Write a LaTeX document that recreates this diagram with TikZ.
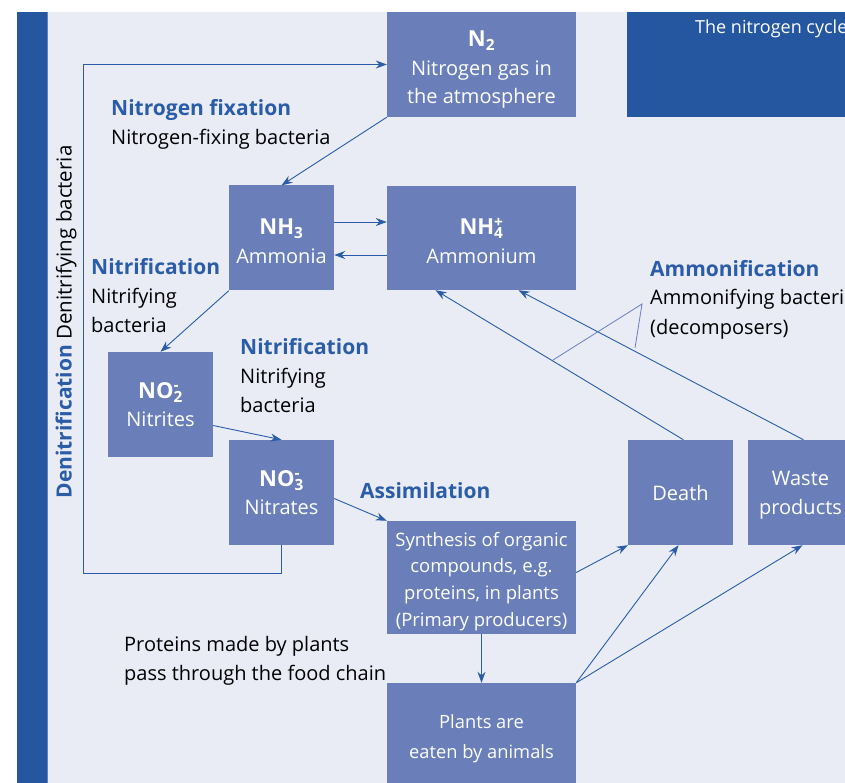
\documentclass[tikz,border=0pt]{standalone}
\usepackage{xcolor}
\usepackage{fontspec}
\setmainfont{Open Sans}
\usetikzlibrary{arrows.meta,positioning}
\definecolor{bandblue}{HTML}{2556A0}
\definecolor{boxblue}{HTML}{6A7EBA}
\definecolor{paleback}{HTML}{E9EBF5}
\definecolor{labelblue}{HTML}{2A5CA8}
\newcommand{\stepname}[1]{\textcolor{labelblue}{\fontsize{21}{29}\selectfont\textbf{#1}}}
\newcommand{\chem}[1]{{\fontsize{22}{28}\selectfont\textbf{#1}}}
\newcommand{\lift}[1]{\rule{0pt}{#1}}

\begin{document}
\begin{tikzpicture}[x=1pt,y=-1pt,
                    box/.style={rectangle,fill=boxblue,text=white,inner sep=0pt,align=center,
                                font=\fontsize{20}{28.5}\selectfont},
                    small box/.style={box,minimum width=105,minimum height=105},
                    wide box/.style={box,minimum width=189,minimum height=105},
                    link/.style={draw=labelblue,line width=0.9pt,-{Stealth[length=11pt,width=8pt]}},
                    note/.style={anchor=base west,inner sep=0pt,align=left,
                                 font=\fontsize{20}{29}\selectfont}]

  \useasboundingbox (0,0) rectangle (845,783);
  \fill[paleback] (17,12) rectangle (845,783);
  \fill[bandblue] (17,12) rectangle (47,783);
  \draw[boxblue,line width=0.6pt] (47,12) -- (47,783);

  % title panel
  \fill[bandblue] (627,12) rectangle (870,117);
  \node[anchor=west,inner sep=0pt,text=white,font=\fontsize{18}{22}\selectfont] (title) at (695,29) {The nitrogen cycle};

  % boxes
  \node[wide box] (n2) at (481.5,64.5) {\lift{26pt}\chem{N\textsubscript{2}}\\Nitrogen gas in\\the atmosphere};
  \node[small box] (nh3) at (281.5,238) {\lift{22pt}\chem{NH\textsubscript{3}}\\Ammonia};
  \node[wide box,minimum height=104] (nh4) at (481.5,238) {\lift{22pt}\chem{NH\rlap{\textsuperscript{+}}\textsubscript{4}}\\Ammonium};
  \node[small box] (no2) at (160.5,404.5) {\chem{NO\rlap{\textsuperscript{-}}\textsubscript{2}}\\Nitrites};
  \node[small box] (no3) at (281.5,492.5) {\chem{NO\rlap{\textsuperscript{-}}\textsubscript{3}}\\Nitrates};
  \node[wide box,minimum height=113,font=\fontsize{18.5}{26.7}\selectfont] (synth) at (481.5,577.5)
       {\lift{22pt}Synthesis of organic\\compounds, e.g.\\proteins, in plants\\(Primary producers)};
  \node[small box] (death) at (680.5,492.5) {Death};
  \node[small box,font=\fontsize{20}{29}\selectfont] (waste) at (800.5,492.5) {\lift{20pt}Waste\\products};
  \node[wide box,minimum height=112,font=\fontsize{18.3}{30}\selectfont] (plants) at (481.5,739) {Plants are\\eaten by animals};

  % labels
  \node[note] (fixation) at (111,145) {\stepname{Nitrogen fixation}\\Nitrogen-fixing bacteria};
  \node[note] (nitrif1) at (91,332) {\stepname{Nitrification}\\Nitrifying\\bacteria};
  \node[note] (nitrif2) at (240,412) {\stepname{Nitrification}\\Nitrifying\\bacteria};
  \node[note] (assim) at (360,498) {\stepname{Assimilation}};
  \node[note] (ammon) at (650,334) {\stepname{Ammonification}\\Ammonifying bacteria\\(decomposers)};
  \node[note] (food) at (124,680) {Proteins made by plants\\pass through the food chain};
  \node[rotate=90,inner sep=0pt,font=\fontsize{20.5}{22}\selectfont] (denitr) at (66,322)
       {\stepname{Denitrification} Denitrifying bacteria};

  % connectors
  \coordinate (bend) at (83,573);
  \draw[link] (no3.south) |- (bend) |- (n2.west);
  \draw[link] (n2.south west) -- (nh3.north);
  \draw[link] ([yshift=16]nh3.east) -- ([yshift=16]nh4.west);
  \draw[link] ([yshift=-17]nh4.west) -- ([yshift=-17]nh3.east);
  \draw[link] (nh3.south west) -- (no2.north);
  \draw[link] ([yshift=-21]no2.east) -- (no3.north);
  \draw[link] ([yshift=-6]no3.east) -- (synth.north west);
  \draw[link] ([yshift=5]synth.east) -- (death.south west);
  \draw[link] (synth.south) -- (plants.north);
  \draw[link] (plants.north east) -- ([xshift=-2]death.south);
  \draw[link] (plants.north east) -- ([xshift=2]waste.south);
  \draw[link] ([xshift=3]death.north) -- ([xshift=-46]nh4.south);
  \draw[link] ([xshift=3]waste.north) -- ([xshift=37]nh4.south);

  % pointer to ammonification
  \draw[boxblue,line width=0.8pt] (553,360) -- (642,304) -- (635,348);

\end{tikzpicture}
\end{document}
